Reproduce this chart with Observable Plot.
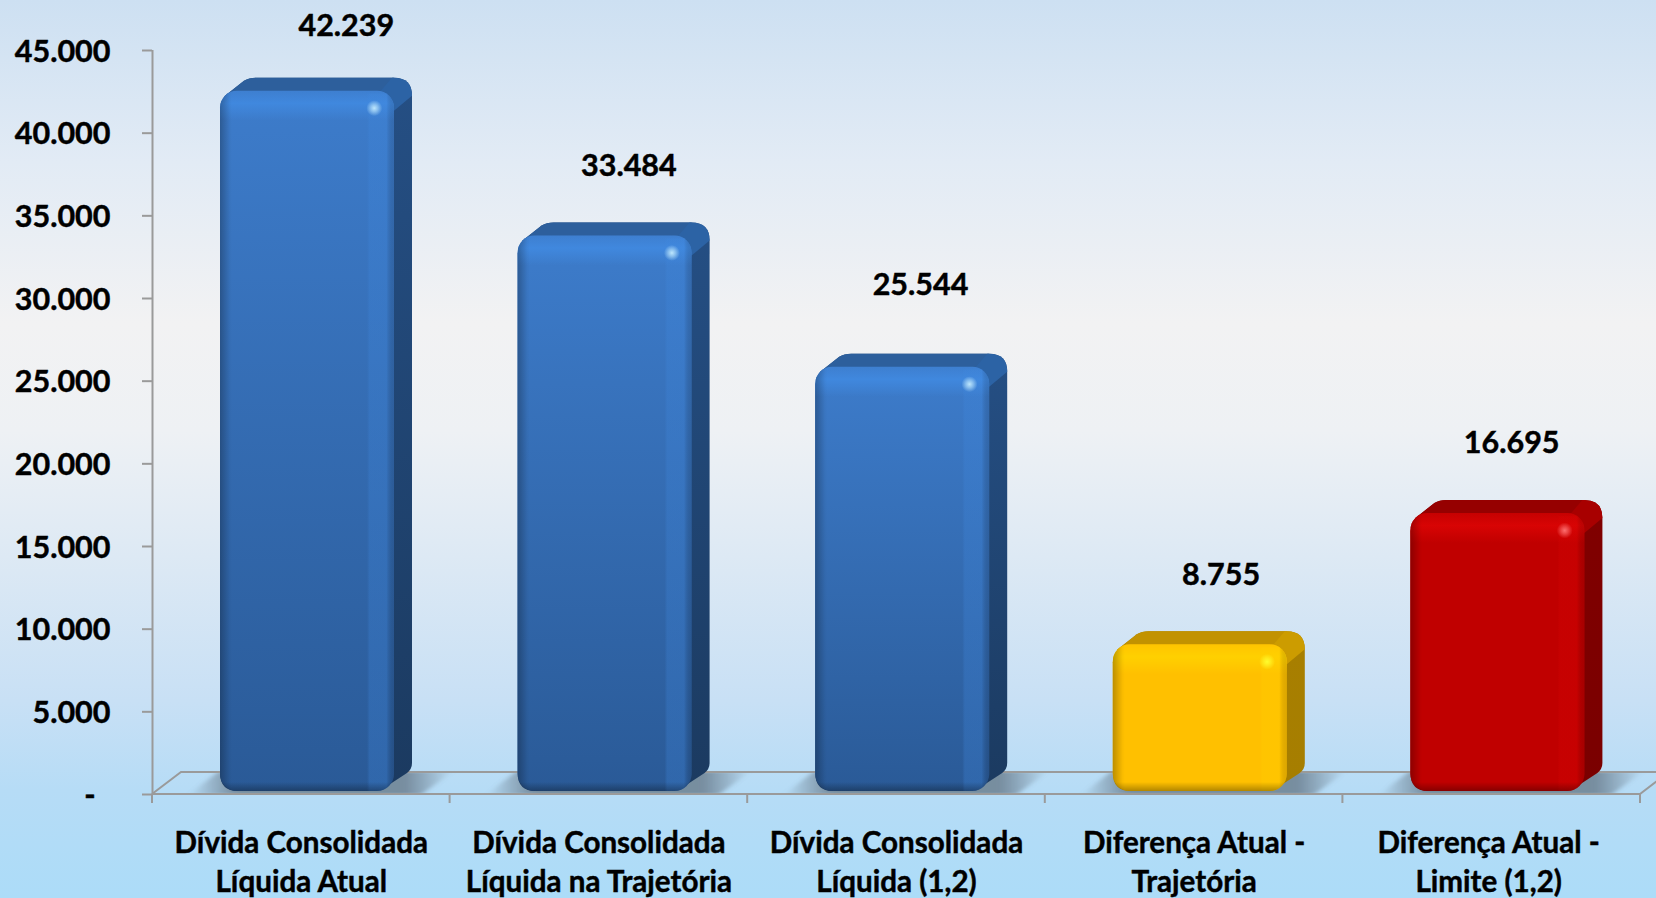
<!DOCTYPE html>
<html><head><meta charset="utf-8">
<script src="https://cdn.jsdelivr.net/npm/d3@7"></script>
<script src="https://cdn.jsdelivr.net/npm/@observablehq/plot@0.6"></script>
<style>
html,body{margin:0;padding:0;width:1656px;height:898px;overflow:hidden;
background:linear-gradient(180deg,#cde0f2 0%,#e2ebf5 18%,#f2f2f3 36%,#eef1f4 48%,#dde9f4 62%,#c8e0f5 78%,#b6dcf6 88%,#acdcf8 100%);}
svg{display:block}
svg text{stroke:#000;stroke-width:.45px}
</style></head><body>
<script>
const categories = ["Dívida Consolidada\nLíquida Atual","Dívida Consolidada\nLíquida na Trajetória","Dívida Consolidada\nLíquida (1,2)","Diferença Atual -\nTrajetória","Diferença Atual -\nLimite (1,2)"];
const values = [42239,33484,25544,8755,16695];
const labels = ["42.239","33.484","25.544","8.755","16.695"];
const tones = ["blue","blue","blue","yellow","red"];
const yTicks = [0,5000,10000,15000,20000,25000,30000,35000,40000,45000];
const yTickLabels = ["-\u00a0\u00a0","5.000","10.000","15.000","20.000","25.000","30.000","35.000","40.000","45.000"];
const labelDx = [45,30,24,27,20];
const labelDy = [-70,-75,-87,-75,-75];

const data = categories.map((c,i)=>({c,v:values[i],label:labels[i],tone:tones[i],i}));
const palette = {
  blue:{top:"#3d7ccb",bottom:"#2a5a97",bevel:"#4088de",topFace:"#2d5f9c",corner:"#2c63a5",side1:"#254f84",side2:"#1b3a60",glow:"#c4ecff"},
  yellow:{top:"#ffc000",bottom:"#ffc000",bevel:"#ffd000",topFace:"#c29200",corner:"#cc9c00",side1:"#a87f00",side2:"#a67e00",glow:"#ffff30"},
  red:{top:"#c00000",bottom:"#c00000",bevel:"#d80404",topFace:"#960000",corner:"#a80000",side1:"#800000",side2:"#7a0000",glow:"#ff7474"}
};
const LEFT=68, W=174, DX=18, DY=13, LIFT=5, FOOT=3, RND=17;
const NS="http://www.w3.org/2000/svg";
const el=(n,a,p)=>{const e=document.createElementNS(NS,n);for(const k in a)e.setAttribute(k,a[k]);if(p)p.appendChild(e);return e;};
const lin=(defs,id,dir,stops)=>{const g=el("linearGradient",{id,x1:0,y1:0,x2:dir==="h"?1:0,y2:dir==="h"?0:1},defs);
  stops.forEach(([o,c,a])=>el("stop",{offset:o,"stop-color":c,"stop-opacity":a==null?1:a},g));};

function defsMark(){
  const defs=document.createElementNS(NS,"defs");
  const bl=el("filter",{id:"soft",x:"-10%",y:"-30%",width:"120%",height:"160%"},defs);
  el("feGaussianBlur",{stdDeviation:"3 1"},bl);
  for(const t in palette){const p=palette[t];
    lin(defs,"front-"+t,"v",[[0,p.top],[1,p.bottom]]);
    lin(defs,"side-"+t,"v",[[0,p.side1],[1,p.side2]]);
    lin(defs,"bevelTop-"+t,"v",[[0,p.bevel,.25],[.42,p.bevel,1],[1,p.bevel,0]]);
    lin(defs,"strip-"+t,"h",[[0,p.bevel,0],[.1,p.bevel,.28],[.72,p.bevel,.28],[1,"#000",.12]]);
    const r=el("radialGradient",{id:"glow-"+t},defs);
    el("stop",{offset:0,"stop-color":p.glow,"stop-opacity":.95},r);
    el("stop",{offset:.45,"stop-color":p.glow,"stop-opacity":.55},r);
    el("stop",{offset:1,"stop-color":p.glow,"stop-opacity":0},r);
  }
  lin(defs,"edgeL","h",[[0,"#000",.26],[.8,"#000",.03],[1,"#000",0]]);
  lin(defs,"edgeB","v",[[0,"#000",0],[1,"#000",.3]]);
  lin(defs,"shadow","h",[[0,"#6d7f8e",0],[.18,"#74899b",.95],[.82,"#74899b",.95],[1,"#6d7f8e",0]]);
  return defs;
}
const geom=(d,s)=>{const L=s.x(d.c)+LEFT,R=L+W,T=s.y(d.v)-LIFT,B=s.y(0)-FOOT;return {L,R,T,B};};

function floorMark(i,s){
  const g=el("g",{});const y0=s.y(0),x0=s.x(categories[0]),bw=s.x(categories[1])-x0,x1=x0+bw*categories.length;
  const defs=el("defs",{},g);
  el("rect",{x:x0,y:y0-22,width:x1-x0+60,height:22},el("clipPath",{id:"floorClip"},defs));
  const sh=el("g",{"clip-path":"url(#floorClip)"},g);
  data.forEach(d=>{const {L,R}=geom(d,s);const X=R+DX;
    el("path",{d:`M${L-30},${y0}L${L-2},${y0-22}H${X+40}L${R+28},${y0}Z`,fill:"url(#shadow)",filter:"url(#soft)"},sh);});
  const stroke={stroke:"#9a9a9a","stroke-width":2,fill:"none"};
  el("path",{d:`M${x0},${y0}L${x0+29},${y0-22}H${x1+40}`,...stroke},g);
  el("path",{d:`M${x0},${y0}H${x1}L${x1+29},${y0-22}`,...stroke},g);
  return g;
}
function backMark(i,s){
  const g=el("g",{});
  data.forEach(d=>{const {L,R,T,B}=geom(d,s);const p=palette[d.tone];const X=R+DX,U=T-DY;
    el("path",{d:`M${L+2},${T+12}L${L+5},${T+5}L${L+24},${U+3}Q${L+29},${U} ${L+36},${U}H${X-18}Q${X},${U} ${X},${U+18}V${B-28}Q${X},${B-22} ${X-5},${B-18}L${R-10},${B-3}Q${R-16},${B} ${R-24},${B}H${L+18}Q${L},${B} ${L},${B-18}V${T+18}Z`,fill:`url(#side-${d.tone})`},g);
    el("path",{d:`M${L+2},${T+12}L${L+5},${T+5}L${L+24},${U+3}Q${L+29},${U} ${L+36},${U}H${X-18}L${R-4},${T+8}V${T+18}H${L+2}Z`,fill:p.topFace},g);
    el("path",{d:`M${R-14},${T+1}L${X-20},${U}H${X-18}Q${X},${U} ${X},${U+18}L${R},${T+20}Z`,fill:p.corner},g);
  });
  return g;
}
function bevelMark(i,s){
  const g=el("g",{});const defs=el("defs",{},g);
  data.forEach(d=>{const {L,R,T,B}=geom(d,s);
    const cid="clip"+d.i;el("rect",{x:L,y:T,width:W,height:B-T,rx:RND,ry:RND},el("clipPath",{id:cid},defs));
    const f=el("g",{"clip-path":`url(#${cid})`},g);
    el("rect",{x:L,y:T,width:W,height:30,fill:`url(#bevelTop-${d.tone})`},f);
    el("rect",{x:R-27,y:T+3,width:27,height:B-T-3,fill:`url(#strip-${d.tone})`},f);
    el("rect",{x:L,y:T,width:12,height:B-T,fill:"url(#edgeL)"},f);
    el("rect",{x:L,y:B-9,width:W,height:9,fill:"url(#edgeB)"},f);
  });
  return g;
}
function tickMark(i,s){
  const g=el("g",{});const y0=s.y(0),x0=s.x(categories[0]),bw=s.x(categories[1])-x0;
  d3.range(categories.length+1).forEach(k=>el("line",{x1:x0+k*bw,x2:x0+k*bw,y1:y0,y2:y0+9,stroke:"#9a9a9a","stroke-width":2},g));
  return g;
}
const xAxisText={tickSize:0,tickPadding:31,lineHeight:1.32,fill:"#000",label:null,fontSize:29.6,lineAnchor:"top"};
const plot=Plot.plot({
  width:1656,height:898,marginLeft:152,marginRight:16,marginTop:50,marginBottom:104,
  style:{fontFamily:"Lato, Carlito, sans-serif",fontWeight:700,fontSize:"30px",background:"transparent",color:"#000"},
  x:{domain:categories,padding:0,round:false,label:null},
  y:{domain:[0,45000],label:null},
  marks:[
    defsMark,
    floorMark,
    backMark,
    Plot.barY(data,{x:"c",y:"v",insetLeft:LEFT,insetRight:297.6-LEFT-W,insetTop:-LIFT,insetBottom:FOOT,rx:RND,ry:RND,fill:d=>`url(#front-${d.tone})`}),
    bevelMark,
    Plot.dot(data,{x:"c",y:"v",dx:73,dy:12,r:8,fill:d=>`url(#glow-${d.tone})`}),
    tickMark,
    Plot.axisY({ticks:yTicks,tickSize:10,fill:"none",stroke:"#9a9a9a",strokeWidth:2,strokeOpacity:1,label:null}),
    Plot.axisY({ticks:yTicks,tickFormat:d=>yTickLabels[yTicks.indexOf(d)],tickSize:0,tickPadding:42,dy:1.5,fill:"#000",label:null,fontSize:30.5}),
    Plot.ruleX([categories[0]],{x:()=>categories[0],y1:0,y2:45000,dx:-148.8,stroke:"#9a9a9a",strokeWidth:2}),
    Plot.axisX({ticks:categories.slice(0,4),...xAxisText}),
    Plot.axisX({ticks:categories.slice(4),dx:-3,...xAxisText}),
    ...data.map((d,k)=>Plot.text([d],{x:"c",y:"v",text:"label",dx:labelDx[k],dy:labelDy[k],fill:"#000",fontSize:30.5,fontWeight:700}))
  ]
});
document.body.appendChild(plot);
</script>
</body></html>
